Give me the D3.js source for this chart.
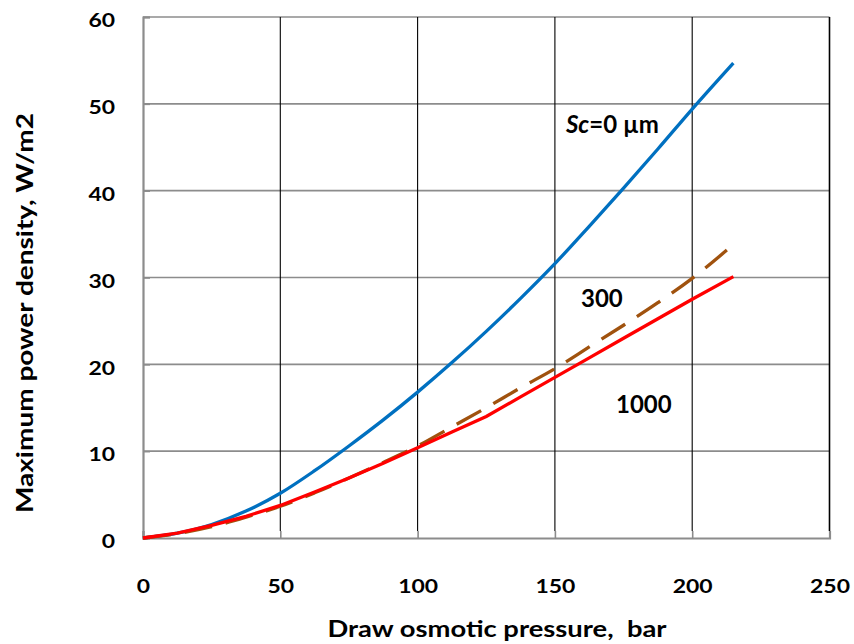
<!DOCTYPE html>
<html>
<head>
<meta charset="utf-8">
<script src="https://cdn.jsdelivr.net/npm/d3@7"></script>
<style>
  html, body { margin: 0; padding: 0; background: #fff; }
  svg { display: block; font-family: Lato, "Open Sans", sans-serif; }
</style>
</head>
<body>
<svg id="chart" width="854" height="644"></svg>
<script>
// Draw osmotic pressure, bar
const pressure = [0, 12.5, 25, 37.5, 50, 62.5, 75, 87.5, 100, 112.5, 125, 137.5, 150, 162.5, 175, 187.5, 200, 215];

// Maximum power density, W/m2, for each support-layer thickness
const sc0    = [0, 0.55, 1.55, 3.1, 5.15, 7.75, 10.6, 13.6, 16.8, 20.2, 23.8, 27.6, 31.6, 35.9, 40.3, 44.8, 49.4, 54.7];
const sc300  = [0, 0.5, 1.3, 2.4, 3.65, 5.2, 6.9, 8.7, 10.6, 12.8, 15.0, 17.3, 19.5, 22.0, 24.5, 27.1, 29.9, 33.8];
const sc1000 = [0, 0.55, 1.45, 2.5, 3.75, 5.3, 6.9, 8.6, 10.4, 12.2, 14.0, 16.25, 18.5, 20.75, 23.0, 25.25, 27.5, 30.1];

const xTicks = [0, 50, 100, 150, 200, 250];
const yTicks = [0, 10, 20, 30, 40, 50, 60];

const svg = d3.select("#chart");
const plotL = 143, plotR = 829.5, plotT = 17, plotB = 538;

const x = d3.scaleLinear().domain([0, 250]).range([plotL, plotR]);
const y = d3.scaleLinear().domain([0, 60]).range([plotB, plotT]);

// horizontal grid (gray)
svg.append("g").selectAll("line").data(yTicks.filter(d => d > 0)).join("line")
  .attr("x1", plotL).attr("x2", plotR)
  .attr("y1", d => y(d)).attr("y2", d => y(d))
  .attr("stroke", "#8c8c8c").attr("stroke-width", 1.6);

// vertical grid (black)
svg.append("g").selectAll("line").data(xTicks.filter(d => d > 0)).join("line")
  .attr("x1", d => x(d)).attr("x2", d => x(d))
  .attr("y1", plotT).attr("y2", plotB - 7)
  .attr("stroke", "#000").attr("stroke-width", d => d === 250 ? 1.6 : 1.1);

// axes with inward gray ticks
const xAxis = svg.append("g").attr("transform", `translate(0,${plotB})`)
  .call(d3.axisBottom(x).tickValues(xTicks).tickSize(-7).tickPadding(0).tickFormat(d3.format("d")));
const yAxis = svg.append("g").attr("transform", `translate(${plotL},0)`)
  .call(d3.axisLeft(y).tickValues(yTicks).tickSize(-7).tickPadding(0).tickFormat(d3.format("d")));

[xAxis, yAxis].forEach(g => {
  g.select(".domain").attr("stroke", "#8c8c8c").attr("stroke-width", 2.2);
  g.selectAll(".tick line").attr("stroke", "#8c8c8c").attr("stroke-width", 1.6);
  g.selectAll(".tick text").attr("fill", "#000")
    .style("font-family", "Lato, sans-serif").style("font-weight", "bold").style("font-size", "19px")
    .attr("textLength", d => String(d).length * 13.3)
    .attr("lengthAdjust", "spacingAndGlyphs");
});
xAxis.selectAll(".tick text").attr("y", 55).attr("dy", 0);
yAxis.selectAll(".tick text").attr("x", -28).attr("dy", "0.62em").attr("y", -2);

// series lines
const series = [
  { values: sc0,    color: "#0070c0", dash: null,    curve: d3.curveMonotoneX },
  { values: sc300,  color: "#a0520e", dash: "28,14", curve: d3.curveMonotoneX },
  { values: sc1000, color: "#ff0000", dash: null,    curve: d3.curveLinear }
];
series.forEach(s => {
  const line = d3.line().x((d, i) => x(pressure[i])).y(d => y(d)).curve(s.curve);
  svg.append("path").datum(s.values)
    .attr("d", line)
    .attr("fill", "none")
    .attr("stroke", s.color)
    .attr("stroke-width", 3.3)
    .attr("stroke-dasharray", s.dash);
});

// series labels
const lbl = svg.append("g").style("font-family", "Lato, sans-serif").style("font-weight", "bold").style("font-size", "24px").attr("fill", "#000");
const t0 = lbl.append("text").attr("x", 566).attr("y", 133);
t0.append("tspan").style("font-style", "italic").text("Sc");
t0.append("tspan").text("=0 µm");
lbl.append("text").attr("x", 581).attr("y", 307).text("300");
lbl.append("text").attr("x", 616).attr("y", 413).text("1000");

// axis titles
svg.append("text").attr("x", 497).attr("y", 637).attr("text-anchor", "middle")
  .style("font-weight", "bold").style("font-size", "22px").style("white-space", "pre")
  .attr("textLength", 339).attr("lengthAdjust", "spacingAndGlyphs")
  .text("Draw osmotic pressure,  bar");
svg.append("text").attr("transform", "translate(33,313) rotate(-90)").attr("text-anchor", "middle")
  .style("font-weight", "bold").style("font-size", "22px")
  .attr("textLength", 400).attr("lengthAdjust", "spacingAndGlyphs")
  .text("Maximum power density, W/m2");
</script>
</body>
</html>
